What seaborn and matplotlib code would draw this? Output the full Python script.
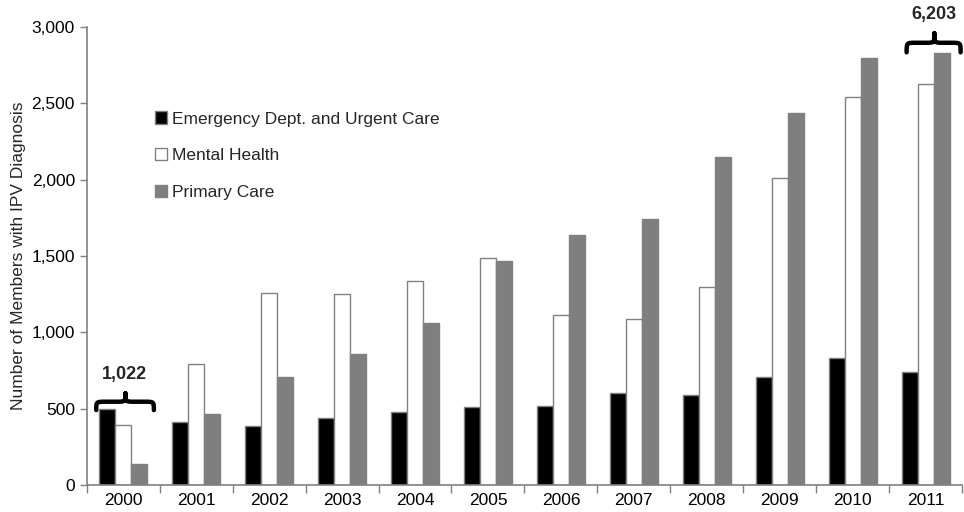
import seaborn as sns
import pandas as pd
import matplotlib.pyplot as plt
from matplotlib.path import Path
from matplotlib.patches import PathPatch
from matplotlib.ticker import FuncFormatter, FixedLocator

years = ['2000', '2001', '2002', '2003', '2004', '2005', '2006', '2007', '2008', '2009', '2010', '2011']
emergency = [495, 410, 385, 440, 475, 510, 520, 605, 590, 705, 830, 740]
mental = [392, 790, 1260, 1250, 1335, 1485, 1115, 1090, 1295, 2010, 2545, 2630]
primary = [135, 465, 705, 860, 1060, 1470, 1640, 1740, 2150, 2435, 2800, 2833]
series_names = ['Emergency Dept. and Urgent Care', 'Mental Health', 'Primary Care']
totals = {'2000': '1,022', '2011': '6,203'}

df = pd.DataFrame({'year': years * 3,
                   'count': emergency + mental + primary,
                   'type': [series_names[0]] * 12 + [series_names[1]] * 12 + [series_names[2]] * 12})

sns.set_style('white')
plt.rcParams['font.family'] = ['Liberation Sans', 'DejaVu Sans']

fig, ax = plt.subplots(figsize=(9.64, 5.12), dpi=100)
fig.subplots_adjust(left=0.09, right=0.998, top=0.947, bottom=0.053)

palette = {series_names[0]: 'black', series_names[1]: 'white', series_names[2]: '#7f7f7f'}
sns.barplot(data=df, x='year', y='count', hue='type', palette=palette, width=0.66,
            edgecolor='#808080', linewidth=1, saturation=1, ax=ax)

ax.set_xlim(-0.5, 11.5)
ax.set_ylim(0, 3000)
ax.set_yticks(range(0, 3001, 500))
ax.yaxis.set_major_formatter(FuncFormatter(lambda v, p: f'{int(v):,}'))
ax.set_xlabel('')
ax.set_ylabel('Number of Members with IPV Diagnosis', fontsize=12.5)
ax.tick_params(axis='both', labelsize=12.5, colors='black')
ax.tick_params(axis='y', length=5, width=1, color='#808080', direction='out', left=True)
# ticks between categories on x
ax.xaxis.set_minor_locator(FixedLocator([i + 0.5 for i in range(-1, 12)]))
ax.tick_params(axis='x', which='major', length=0, pad=6)
ax.tick_params(axis='x', which='minor', length=6, width=1, color='#808080', direction='out', bottom=True)
for s in ['top', 'right']:
    ax.spines[s].set_visible(False)
for s in ['left', 'bottom']:
    ax.spines[s].set_color('#808080')
    ax.spines[s].set_linewidth(1.2)

leg = ax.legend(loc='upper left', bbox_to_anchor=(0.06, 0.85), frameon=False, fontsize=12.5,
                handlelength=0.7, handleheight=0.7, handletextpad=0.3, labelspacing=1.25)


def brace(ax, x0, x1, xm, y0, h):
    q = (x1 - x0) * 0.16
    ym = y0 + h / 2
    verts = [(x0, y0), (x0, ym), (x0, ym), (x0 + q, ym),
             (xm - q, ym), (xm, ym), (xm, ym), (xm, y0 + h),
             (xm, ym), (xm, ym), (xm + q, ym),
             (x1 - q, ym), (x1, ym), (x1, ym), (x1, y0)]
    codes = [Path.MOVETO, Path.CURVE4, Path.CURVE4, Path.CURVE4,
             Path.LINETO, Path.CURVE4, Path.CURVE4, Path.CURVE4,
             Path.CURVE4, Path.CURVE4, Path.CURVE4,
             Path.LINETO, Path.CURVE4, Path.CURVE4, Path.CURVE4]
    ax.add_patch(PathPatch(Path(verts, codes), fill=False, lw=3.2, color='black',
                           clip_on=False, capstyle='round', joinstyle='round'))


brace(ax, -0.37, 0.42, 0.03, 490, 110)
ax.text(0.02, 665, totals['2000'], ha='center', va='bottom', fontsize=13, fontweight='bold')
brace(ax, 10.74, 11.48, 11.12, 2835, 125)
ax.text(11.11, 3025, totals['2011'], ha='center', va='bottom', fontsize=13, fontweight='bold',
        clip_on=False)

plt.savefig('out.png', dpi=100)
